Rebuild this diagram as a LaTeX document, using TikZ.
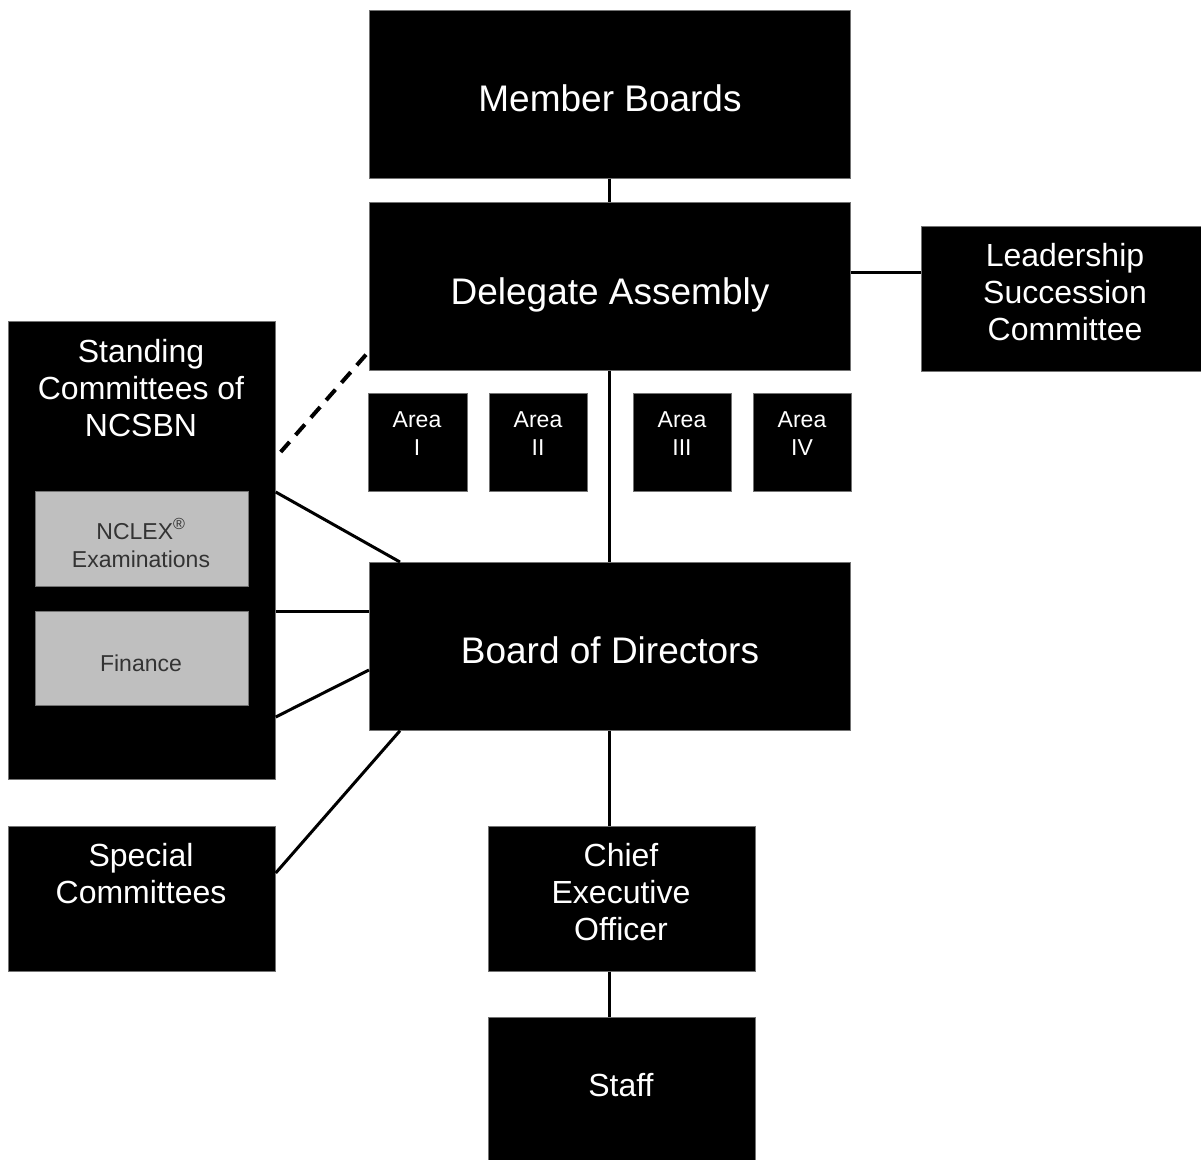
\documentclass[tikz,border=0pt]{standalone}
\usepackage{fontspec}
\setmainfont{Liberation Sans}
\usetikzlibrary{calc}
\begin{document}
\begin{tikzpicture}[x=1pt,y=-1pt,
 box/.style={draw=black!55, line width=0.7pt, fill=black, inner sep=0pt, anchor=north west},
 graybox/.style={box, fill=black!25},
 txt/.style={text=white, inner sep=0pt, align=center, anchor=base},
 gtxt/.style={txt, text=black!80},
 big/.style={font=\fontsize{37}{42}\selectfont},
 mid/.style={font=\fontsize{32}{36.8}\selectfont},
 sml/.style={font=\fontsize{23}{28}\selectfont},
 conn/.style={line width=3pt},
 dconn/.style={line width=4pt, dash pattern=on 14pt off 9.2pt},
]
\fill[white] (0,0) rectangle (1201,1159);
\useasboundingbox (0,0) rectangle (1201,1159);

% boxes
\node[box,minimum width=481,minimum height=168] (mb) at (369,10) {};
\node[box,minimum width=481,minimum height=168] (da) at (369,202) {};
\node[box,minimum width=481,minimum height=168] (bod) at (369,562) {};
\node[box,minimum width=267,minimum height=145] (ceo) at (488,826) {};
\node[box,minimum width=267,minimum height=150] (staff) at (488,1017) {};
\node[box,minimum width=282,minimum height=145] (ls) at (921,226) {};
\node[box,minimum width=267,minimum height=458] (std) at (8,321) {};
\node[graybox,minimum width=213,minimum height=95] (nclex) at (35,491) {};
\node[graybox,minimum width=213,minimum height=94] (fin) at (35,611) {};
\node[box,minimum width=267,minimum height=145] (sc) at (8,826) {};
\node[box,minimum width=99,minimum height=98] (a1) at (368,393) {};
\node[box,minimum width=98,minimum height=98] (a2) at (489,393) {};
\node[box,minimum width=98,minimum height=98] (a3) at (633,393) {};
\node[box,minimum width=98,minimum height=98] (a4) at (753,393) {};

% texts (base = last baseline)
\node[txt,big] (mbt) at (610,111) {Member Boards};
\node[txt,big] (dat) at (610,304) {Delegate Assembly};
\node[txt,big] (bodt) at (610,663) {Board of Directors};
\node[txt,mid] (ceot) at (621,940) {Chief\\Executive\\Officer};
\node[txt,mid] (stafft) at (621,1096) {Staff};
\node[txt,mid] (lst) at (1065,340) {Leadership\\Succession\\Committee};
\node[txt,mid] (stdt) at (141,436) {Standing\\Committees of\\NCSBN};
\node[txt,mid] (sct) at (141,903) {Special\\Committees};
\node[gtxt,sml] (nclext) at (141,567) {NCLEX\textsuperscript{\textregistered}\\Examinations};
\node[gtxt,sml] (fint) at (141,671) {Finance};
\node[txt,sml] (a1t) at (417,455) {Area\\I};
\node[txt,sml] (a2t) at (538,455) {Area\\II};
\node[txt,sml] (a3t) at (682,455) {Area\\III};
\node[txt,sml] (a4t) at (802,455) {Area\\IV};

% connectors
\draw[conn] (mb.south) -- (da.north);
\draw[conn] (da.east |- 0,272) -- (ls.west |- 0,272);
\draw[conn] (da.south) -- (bod.north);
\draw[dconn] ($(da.south west)+(-3,-16)$) -- ($(std.north east)+(5,131)$);
\draw[conn] (std.east |- 0,492) -- ($(bod.north west)+(31,0)$);
\draw[conn] (std.east |- 0,611) -- (bod.west |- 0,611);
\draw[conn] (std.east |- 0,717) -- (bod.west |- 0,670);
\draw[conn] (sc.east |- 0,873) -- ($(bod.south west)+(31,0)$);
\draw[conn] (bod.south) -- (bod.south |- ceo.north);
\draw[conn] (bod.south |- ceo.south) -- (bod.south |- staff.north);
\end{tikzpicture}
\end{document}
